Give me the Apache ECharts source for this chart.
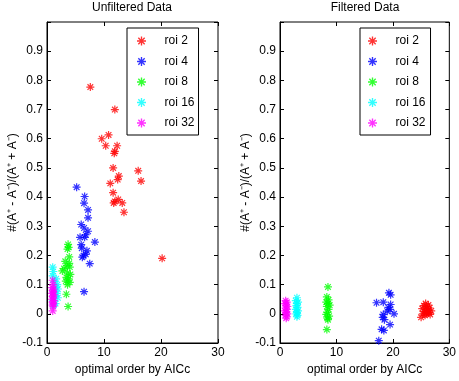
<!DOCTYPE html>
<html>
<head>
<meta charset="utf-8">
<script src="https://cdn.jsdelivr.net/npm/echarts@6/dist/echarts.min.js"></script>
<style>
  html, body { margin: 0; padding: 0; background: #fff; }
  #chart { width: 459px; height: 381px; }
</style>
</head>
<body>
<div id="chart"></div>
<script>
// [optimal order, #(A+ - A-)/(A+ + A-)]
var unfRoi2 = [[7.6,0.777],[11.9,0.70],[9.6,0.60],[10.8,0.613],[10.3,0.576],[12.3,0.576],[11.9,0.557],[11.8,0.55],
  [11.6,0.50],[16.0,0.49],[12.6,0.472],[12.4,0.46],[11.1,0.447],[16.5,0.455],[11.6,0.415],[11.9,0.385],
  [12.5,0.392],[13.2,0.38],[11.7,0.38],[13.5,0.348],[20.2,0.19]];
var unfRoi4 = [[5.2,0.434],[6.6,0.402],[6.5,0.379],[7.2,0.356],[7.2,0.329],[6.0,0.306],[6.5,0.294],[7.2,0.283],
  [6.8,0.271],[5.8,0.262],[6.6,0.262],[8.4,0.246],[6.0,0.237],[6.1,0.225],[7.0,0.216],[6.8,0.204],[6.4,0.199],
  [6.2,0.194],[7.5,0.172],[6.5,0.076]];
var unfRoi8 = [[3.7,0.238],[3.8,0.228],[3.6,0.222],[3.9,0.195],[3.2,0.18],[3.9,0.173],[3.5,0.165],[4.0,0.16],
  [3.0,0.155],[2.7,0.147],[3.6,0.14],[4.1,0.135],[3.4,0.125],[3.8,0.12],[3.3,0.112],[4.0,0.108],[3.6,0.1],
  [3.4,0.067],[3.7,0.025]];
var unfRoi16 = [[1.0,0.16],[1.1,0.145],[1.0,0.13],[1.6,0.12],[1.3,0.11],[1.8,0.1],[1.5,0.09],[1.9,0.085],
  [1.2,0.075],[1.7,0.07],[1.4,0.06],[1.9,0.055],[1.1,0.045],[1.5,0.035],[1.2,0.03]];
var unfRoi32 = [[1.0,0.115],[1.1,0.1],[0.9,0.09],[1.2,0.085],[1.0,0.08],[1.1,0.075],[0.9,0.07],[1.2,0.065],
  [1.0,0.06],[1.1,0.055],[0.9,0.05],[1.2,0.045],[1.0,0.04],[1.1,0.035],[1.0,0.03],[1.1,0.025],[1.0,0.01]];

var filtRoi2 = [[25.8,0.035],[26.3,0.03],[25.5,0.028],[26.0,0.025],[26.5,0.02],[25.2,0.018],[25.9,0.015],
  [26.2,0.012],[26.8,0.01],[25.6,0.008],[26.0,0.005],[26.4,0.003],[25.3,0.0],[26.6,-0.002],[25.7,-0.005],
  [25.0,-0.012],[26.1,0.018],[25.9,0.0]];
var filtRoi4 = [[19.3,0.072],[19.6,0.065],[17.1,0.038],[18.3,0.04],[19.6,0.032],[19.2,0.022],[19.5,0.015],
  [19.0,0.009],[20.2,0.0],[18.3,-0.002],[18.2,-0.012],[18.5,-0.02],[19.5,-0.037],[18.0,-0.053],[18.4,-0.057],
  [17.5,-0.092]];
var filtRoi8 = [[8.5,0.092],[8.3,0.058],[8.6,0.048],[8.2,0.04],[8.5,0.035],[8.8,0.03],[8.3,0.025],[8.6,0.015],
  [8.4,0.005],[8.2,-0.002],[8.7,-0.008],[8.4,-0.015],[8.5,-0.02],[8.3,-0.054]];
var filtRoi16 = [[3.0,0.055],[2.8,0.045],[3.2,0.04],[3.0,0.035],[2.9,0.028],[3.1,0.022],[2.8,0.015],[3.2,0.01],
  [3.0,0.005],[2.9,0.0],[3.1,-0.005],[3.0,-0.01]];
var filtRoi32 = [[1.0,0.045],[1.2,0.04],[0.9,0.035],[1.1,0.03],[1.3,0.025],[1.0,0.02],[1.2,0.015],[0.9,0.01],
  [1.1,0.005],[1.3,0.0],[1.0,-0.005],[1.2,-0.01],[1.1,-0.015]];

var roiNames = ["roi 2", "roi 4", "roi 8", "roi 16", "roi 32"];
var roiColors = ["#ff0000", "#0000ff", "#00ff00", "#00ffff", "#ff00ff"];
var titles = ["Unfiltered Data", "Filtered Data"];
var xName = "optimal order by AICc";
var yName = "#(A\u207A - A\u207B)/(A\u207A + A\u207B)";

// asterisk marker (four thin bars, same winding)
var star = "path://M-0.15,-1L0.15,-1L0.15,1L-0.15,1Z" +
  "M-1,-0.15L1,-0.15L1,0.15L-1,0.15Z" +
  "M-0.6,-0.81L0.81,0.6L0.6,0.81L-0.81,-0.6Z" +
  "M-0.81,0.6L0.6,-0.81L0.81,-0.6L-0.6,0.81Z";

var font = "Liberation Sans, Arial, Helvetica, sans-serif";
var grids = [
  { left: 47, top: 22, width: 171, height: 322 },
  { left: 280, top: 22, width: 171, height: 322 }
];

function xAx(gi, top) {
  return {
    type: "value", gridIndex: gi, min: 0, max: 30, interval: 10,
    position: top ? "top" : "bottom",
    name: top ? "" : xName, nameLocation: "middle", nameGap: 21,
    nameTextStyle: { fontFamily: font, fontSize: 12, color: "#000" },
    axisLine: { show: !top, onZero: false, lineStyle: { color: "#000" } },
    axisTick: { inside: true, length: 4, lineStyle: { color: "#000" } },
    axisLabel: { show: !top, margin: 4, fontFamily: font, fontSize: 12, color: "#000" },
    splitLine: { show: false }
  };
}
function yAx(gi, right) {
  return {
    type: "value", gridIndex: gi, min: -0.1, max: 1.0, interval: 0.1,
    position: right ? "right" : "left",
    name: right ? "" : yName, nameLocation: "middle", nameGap: 28, nameRotate: 90,
    nameTextStyle: { fontFamily: font, fontSize: 12, color: "#000" },
    axisLine: { show: !right, onZero: false, lineStyle: { color: "#000" } },
    axisTick: { inside: true, length: 4, lineStyle: { color: "#000" } },
    axisLabel: {
      show: !right, margin: 4, fontFamily: font, fontSize: 12, color: "#000",
      formatter: function (v) { return v > 0.95 ? "" : String(Math.round(v * 10) / 10); }
    },
    splitLine: { show: false }
  };
}

var sets = [
  [unfRoi2, unfRoi4, unfRoi8, unfRoi16, unfRoi32],
  [filtRoi2, filtRoi4, filtRoi8, filtRoi16, filtRoi32]
];
var series = [];
sets.forEach(function (group, gi) {
  group.forEach(function (d, i) {
    series.push({
      type: "scatter", name: roiNames[i], xAxisIndex: gi, yAxisIndex: gi,
      data: d, symbol: star, symbolSize: 8,
      itemStyle: { color: roiColors[i] },
      emphasis: { disabled: true }
    });
  });
});

function legend(left, padLeft, padRight) {
  return {
    orient: "vertical", left: left, top: 28, data: roiNames,
    icon: star, itemWidth: 36, itemHeight: 9, itemGap: 8.5,
    padding: [7, padRight, 6, padLeft],
    backgroundColor: "#fff", borderColor: "#000", borderWidth: 1, borderRadius: 0,
    selectedMode: false,
    textStyle: { fontFamily: font, fontSize: 12, color: "#000" }
  };
}

var chart = echarts.init(document.getElementById("chart"));
chart.setOption({
  backgroundColor: "#fff",
  animation: false,
  title: [
    { text: titles[0], left: 132, top: 2, textAlign: "center", padding: 0,
      textStyle: { fontFamily: font, fontSize: 12, fontWeight: "normal", color: "#000" } },
    { text: titles[1], left: 365, top: 2, textAlign: "center", padding: 0,
      textStyle: { fontFamily: font, fontSize: 12, fontWeight: "normal", color: "#000" } }
  ],
  grid: grids.map(function (g) {
    return Object.assign({ show: true, borderColor: "#000", borderWidth: 1, backgroundColor: "#fff" }, g);
  }),
  xAxis: [xAx(0, false), xAx(1, false), xAx(0, true), xAx(1, true)],
  yAxis: [yAx(0, false), yAx(1, false), yAx(0, true), yAx(1, true)],
  legend: [legend(127, 10, 4), legend(360, 8, 5)],
  series: series
});
</script>
</body>
</html>
